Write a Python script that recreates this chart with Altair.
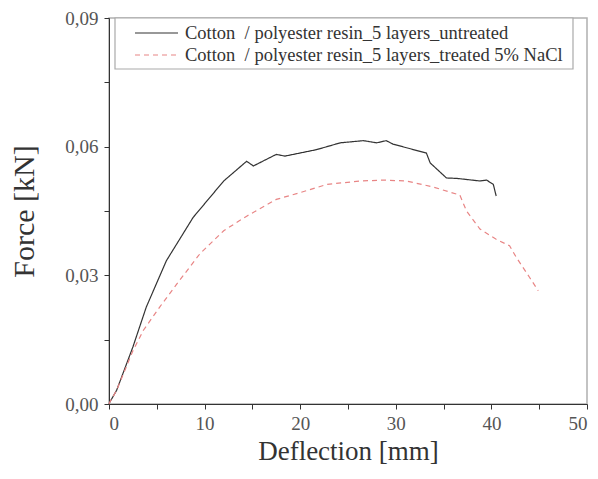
import altair as alt
import pandas as pd

series_names = ["Cotton\u00a0 / polyester resin_5 layers_untreated",
                "Cotton\u00a0 / polyester resin_5 layers_treated 5% NaCl"]
series_colors = ["#333333", "#e88585"]
series_dash = [[1, 0], [5, 4]]

black_x = [0.0, 0.1, 0.8, 2.5, 3.9, 6.0, 8.8, 12.0, 14.4, 15.1, 17.5, 18.4, 21.7, 24.2, 26.6,
           28.0, 29.0, 29.7, 33.2, 33.6, 35.3, 36.4, 38.8, 39.5, 40.2, 40.5]
black_y = [0.0, 0.0005, 0.0032, 0.0133, 0.0226, 0.0334, 0.0435, 0.0520, 0.0566, 0.0555, 0.0582,
           0.0578, 0.0593, 0.0609, 0.0614, 0.0609, 0.0614, 0.0606, 0.0585, 0.0562, 0.0527, 0.0526,
           0.0520, 0.0522, 0.0512, 0.0485]

red_x = [0.0, 0.1, 0.8, 2.5, 3.6, 5.3, 7.1, 9.5, 12.0, 14.4, 17.5, 20.0, 22.8, 26.3, 28.7, 31.1,
         33.9, 36.7, 37.4, 38.8, 40.5, 41.9, 42.6, 44.0, 44.9]
red_y = [0.0, 0.0005, 0.0032, 0.0124, 0.0172, 0.0226, 0.0280, 0.0350, 0.0404, 0.0438, 0.0477,
         0.0493, 0.0512, 0.0520, 0.0522, 0.0520, 0.0506, 0.0487, 0.0450, 0.0408, 0.0384, 0.0369,
         0.0342, 0.0295, 0.0264]

x_ticks = [0, 5, 10, 15, 20, 25, 30, 35, 40, 45, 50]
y_ticks = [0, 0.015, 0.03, 0.045, 0.06, 0.075, 0.09]

rows = []
for i, (x, y) in enumerate(zip(black_x, black_y)):
    rows.append({"x": x, "y": y, "s": series_names[0], "o": i})
for i, (x, y) in enumerate(zip(red_x, red_y)):
    rows.append({"x": x, "y": y, "s": series_names[1], "o": i})
df = pd.DataFrame(rows)

FONT = "Liberation Serif"

lines = alt.Chart(df).mark_line(strokeWidth=1.2).encode(
    x=alt.X("x:Q", scale=alt.Scale(domain=[0, 50], nice=False),
            axis=alt.Axis(title="Deflection [mm]", values=x_ticks,
                          labelExpr="datum.value % 10 == 0 ? datum.label : ''",
                          grid=False, tickSize=5, labelPadding=5, titlePadding=5,
                          titleFontSize=27)),
    y=alt.Y("y:Q", scale=alt.Scale(domain=[0, 0.09], nice=False),
            axis=alt.Axis(title="Force [kN]", values=y_ticks,
                          labelExpr="(round(datum.value*1000) % 30 == 0) ? replace(format(datum.value, '.2f'), '.', ',') : ''",
                          grid=False, tickSize=5, labelPadding=6, titlePadding=25,
                          titleFontSize=30)),
    color=alt.Color("s:N", scale=alt.Scale(domain=series_names, range=series_colors), legend=None),
    strokeDash=alt.StrokeDash("s:N", scale=alt.Scale(domain=series_names, range=series_dash),
                              legend=None),
    order="o:Q",
)

one = pd.DataFrame({"a": [0]})
legend_box = alt.Chart(one).mark_rect(fill="white", stroke="#aaaaaa", strokeWidth=1.2).encode(
    x=alt.value(6), x2=alt.value(464), y=alt.value(0), y2=alt.value(51))

legend_layers = [legend_box]
for i, name in enumerate(series_names):
    yy = 15 + 22 * i
    legend_layers.append(
        alt.Chart(one).mark_rule(color=series_colors[i], strokeWidth=1.2,
                                 strokeDash=series_dash[i]).encode(
            x=alt.value(26), x2=alt.value(69), y=alt.value(yy)))
    legend_layers.append(
        alt.Chart(one).mark_text(text=name, align="left", baseline="middle", font=FONT,
                                 fontSize=18.5, color="#333333").encode(
            x=alt.value(76), y=alt.value(yy)))

chart = alt.layer(lines, *legend_layers).properties(
    width=478, height=386,
    autosize=alt.AutoSizeParams(type="none"),
    padding={"left": 101, "top": 10, "right": 3, "bottom": 67},
).configure_axis(
    labelFont=FONT, labelFontSize=19, labelColor="#555555",
    titleFont=FONT, titleFontWeight="normal", titleColor="#333333",
    domainColor="#333333", tickColor="#333333",
).configure_view(stroke="#b0b0b0", strokeWidth=1.5)

chart.save("out.html", embed_options={"renderer": "svg", "actions": False})
